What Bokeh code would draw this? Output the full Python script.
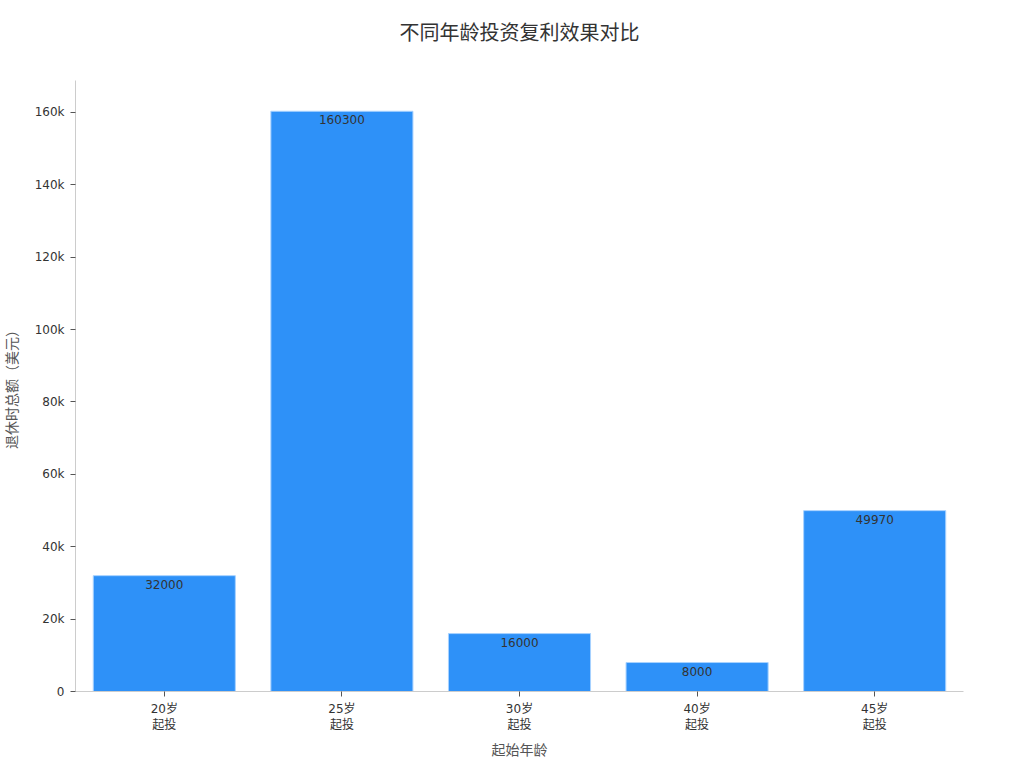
from bokeh.plotting import figure
from bokeh.models import ColumnDataSource, CustomJSTickFormatter, LabelSet, Title
from bokeh.core.properties import value
from bokeh.embed import file_html
from bokeh.resources import INLINE

# data
categories = ["20岁\n起投", "25岁\n起投", "30岁\n起投", "40岁\n起投", "45岁\n起投"]
totals = [32000, 160300, 16000, 8000, 49970]

FONT = "DejaVu Sans, Noto Sans CJK SC"

src = ColumnDataSource(dict(cat=categories, val=totals,
                            lbl=[str(v) for v in totals]))

p = figure(x_range=categories, y_range=(0, 168800),
           width=1008, height=761, output_backend="svg", toolbar_location=None,
           title="不同年龄投资复利效果对比",
           x_axis_label="起始年龄", y_axis_label="退休时总额（美元）",
           min_border_left=75, min_border_right=45, min_border_top=0, min_border_bottom=70)

# blank spacer between the title and the plot area
p.add_layout(Title(text=" ", text_font_size="1px", standoff=15), "above")

p.vbar(x="cat", top="val", width=0.8, source=src,
       fill_color="#2E91F8", line_color="#A8D2FF", line_width=1)

labels = LabelSet(x="cat", y="val", text="lbl", source=src, text_align="center",
                  text_baseline="top", y_offset=-4, text_font_size="12px",
                  text_color="#333333", text_font=value(FONT))
p.add_layout(labels)

p.title.align = "center"
p.title.text_font = FONT
p.title.text_font_size = "20px"
p.title.text_font_style = "normal"
p.title.text_color = "#333333"
p.title.standoff = 36

p.grid.visible = False
p.outline_line_color = None

p.yaxis.formatter = CustomJSTickFormatter(code="return tick == 0 ? '0' : (tick/1000) + 'k';")
p.yaxis.minor_tick_line_color = None
p.yaxis.major_tick_out = 5
p.yaxis.major_tick_in = 0
p.yaxis.major_label_standoff = 6
p.yaxis.axis_label_standoff = 12
p.xaxis.major_tick_out = 5
p.xaxis.major_tick_in = 0
p.xaxis.axis_label_standoff = 7

for ax in (p.xaxis, p.yaxis):
    ax.axis_line_color = "#CCCCCC"
    ax.major_tick_line_color = "#555555"
    ax.major_label_text_font = FONT
    ax.major_label_text_font_size = "12px"
    ax.major_label_text_color = "#333333"
    ax.axis_label_text_font = FONT
    ax.axis_label_text_font_size = "14px"
    ax.axis_label_text_font_style = "normal"
    ax.axis_label_text_color = "#555555"

p.x_range.range_padding = 0

open("out.html", "w").write(file_html(p, INLINE))
